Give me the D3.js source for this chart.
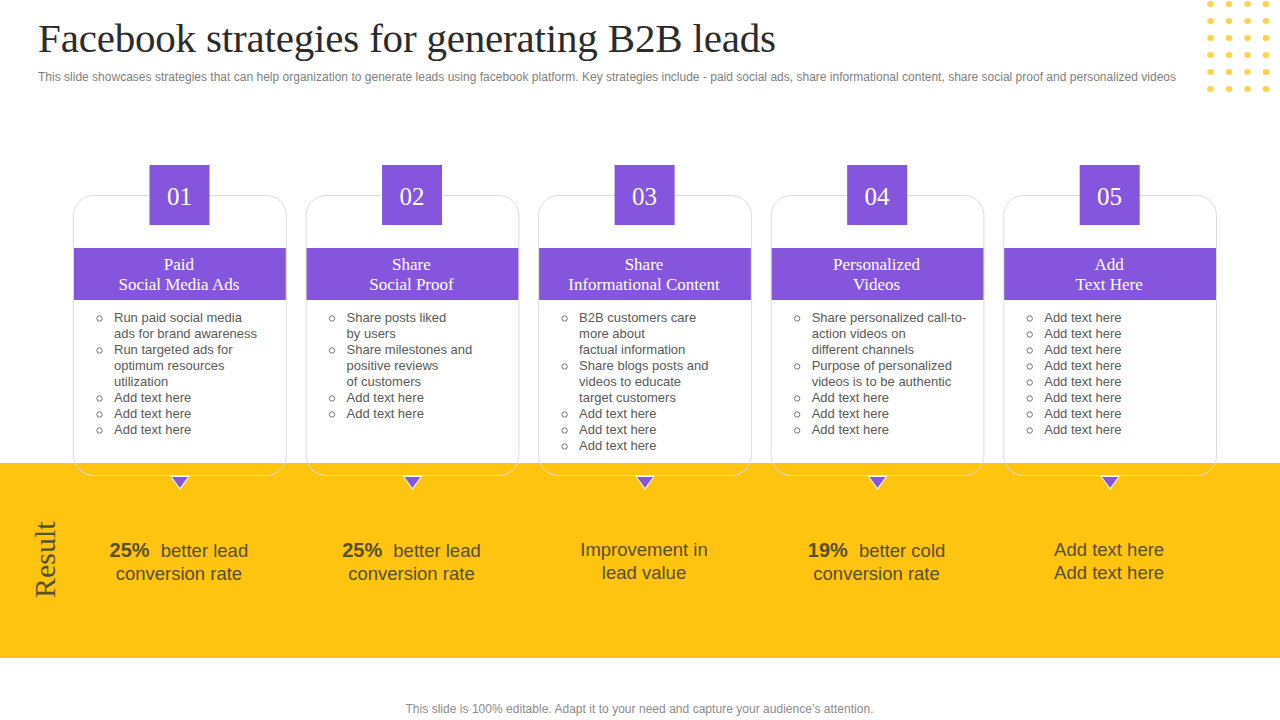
<!DOCTYPE html>
<html>
<head>
<meta charset="utf-8">
<script src="https://cdn.jsdelivr.net/npm/d3@7"></script>
<style>
  html, body { margin: 0; padding: 0; background: #fff; }
  svg { display: block; }
  .serif { font-family: "Liberation Serif", serif; }
  .sans { font-family: "Liberation Sans", sans-serif; }
</style>
</head>
<body>
<svg id="chart" width="1280" height="720"></svg>
<script>
const titleText = "Facebook strategies for generating B2B leads";
const subtitleText = "This slide showcases strategies that can help organization to generate leads using facebook platform. Key strategies include - paid social ads, share informational content, share social proof and personalized videos";
const footerText = "This slide is 100% editable. Adapt it to your need and capture your audience\u2019s attention.";
const numbers = ["01", "02", "03", "04", "05"];
const headings = [
  ["Paid", "Social Media Ads"],
  ["Share", "Social Proof"],
  ["Share", "Informational Content"],
  ["Personalized", "Videos"],
  ["Add", "Text Here"]
];
const bullets = [
  [["Run paid social media", "ads for brand awareness"], ["Run targeted ads for", "optimum resources", "utilization"], ["Add text here"], ["Add text here"], ["Add text here"]],
  [["Share posts liked", "by users"], ["Share milestones and", "positive reviews", "of customers"], ["Add text here"], ["Add text here"]],
  [["B2B customers care", "more about", "factual information"], ["Share blogs posts and", "videos to educate", "target customers"], ["Add text here"], ["Add text here"], ["Add text here"]],
  [["Share personalized call-to-", "action videos on", "different channels"], ["Purpose of personalized", "videos is to be authentic"], ["Add text here"], ["Add text here"], ["Add text here"]],
  [["Add text here"], ["Add text here"], ["Add text here"], ["Add text here"], ["Add text here"], ["Add text here"], ["Add text here"], ["Add text here"]]
];
const resultBold = ["25%", "25%", "", "19%", ""];
const resultFirst = ["better lead", "better lead", "Improvement in", "better cold", "Add text here"];
const resultSecond = ["conversion rate", "conversion rate", "lead value", "conversion rate", "Add text here"];
const dotCols = [0, 1, 2, 3];
const dotRows = [0, 1, 2, 3, 4, 5];

const purple = "#8655de";
const yellow = "#fec410";

const svg = d3.select("#chart");

const x = d3.scaleBand().domain(numbers).range([73.5, 1216.5]).paddingInner(0.085);
const dotX = d3.scalePoint().domain(dotCols).range([1210.5, 1266]);
const dotY = d3.scalePoint().domain(dotRows).range([4, 89]);

svg.append("text").attr("class", "serif").attr("x", 38).attr("y", 52)
  .attr("font-size", 41).attr("fill", "#2b2b2b")
  .attr("textLength", 738).attr("lengthAdjust", "spacing").text(titleText);

svg.append("text").attr("class", "sans").attr("x", 38).attr("y", 80.5)
  .attr("font-size", 12).attr("fill", "#7f7f7f")
  .attr("textLength", 1138).attr("lengthAdjust", "spacing").text(subtitleText);

svg.append("g").selectAll("ellipse")
  .data(d3.cross(dotCols, dotRows))
  .join("ellipse")
  .attr("cx", d => dotX(d[0]))
  .attr("cy", d => dotY(d[1]))
  .attr("rx", 3.3)
  .attr("ry", 2.9)
  .attr("fill", "#fbd44f");

// yellow result band sits under the cards
svg.append("rect").attr("x", 0).attr("y", 463).attr("width", 1280).attr("height", 195).attr("fill", yellow);

svg.append("text").attr("class", "serif")
  .attr("transform", "translate(55,598) rotate(-90)")
  .attr("font-size", 30).attr("fill", "#58502a")
  .text("Result");

const cards = svg.append("g").selectAll("g")
  .data(numbers)
  .join("g")
  .attr("transform", d => `translate(${x(d)},0)`);

// white part of the card above the band
cards.append("path")
  .attr("d", () => {
    const w = x.bandwidth();
    return `M0.5,463V215.5a20,20 0 0 1 20,-20H${w - 20.5}a20,20 0 0 1 20,20V463Z`;
  })
  .attr("fill", "#fff");

cards.append("rect")
  .attr("y", 195.5).attr("width", x.bandwidth()).attr("height", 280)
  .attr("rx", 20).attr("fill", "none").attr("stroke", "#dcdcdc").attr("stroke-width", 1);

cards.append("rect")
  .attr("x", x.bandwidth() / 2 - 30.4).attr("y", 165).attr("width", 60).attr("height", 60)
  .attr("fill", purple);

cards.append("text").attr("class", "serif")
  .attr("x", x.bandwidth() / 2 - 0.5).attr("y", 205)
  .attr("text-anchor", "middle").attr("font-size", 25).attr("fill", "#fff")
  .text(d => d);

cards.append("rect")
  .attr("x", 0.5).attr("y", 248).attr("width", x.bandwidth() - 1).attr("height", 52)
  .attr("fill", purple);

cards.each(function (d, i) {
  const card = d3.select(this);
  const w = x.bandwidth();

  headings[i].forEach((line, k) => {
    card.append("text").attr("class", "serif")
      .attr("x", w / 2 - 1).attr("y", 270 + k * 20)
      .attr("text-anchor", "middle").attr("font-size", 17).attr("fill", "#fff")
      .text(line);
  });

  let row = 0;
  bullets[i].forEach(item => {
    card.append("circle")
      .attr("cx", 26).attr("cy", 318.5 + row * 16).attr("r", 2.7)
      .attr("fill", "none").attr("stroke", "#666").attr("stroke-width", 0.9);
    item.forEach(line => {
      card.append("text").attr("class", "sans")
        .attr("x", 40.5).attr("y", 322 + row * 16)
        .attr("font-size", 13).attr("fill", "#595959")
        .text(line);
      row += 1;
    });
  });

  card.append("path")
    .attr("d", `M${w / 2 - 10},475.5H${w / 2 + 10}L${w / 2},490Z`)
    .attr("fill", "#fff");
  card.append("path")
    .attr("d", `M${w / 2 - 8},477H${w / 2 + 8}L${w / 2},488Z`)
    .attr("fill", purple);

  const first = card.append("text").attr("class", "sans")
    .attr("x", w / 2 - 1).attr("y", resultBold[i] ? 557 : 556)
    .attr("text-anchor", "middle").attr("font-size", 18.5).attr("fill", "#58502a");
  if (resultBold[i]) {
    first.append("tspan").attr("font-weight", "bold").attr("font-size", 20).text(resultBold[i] + "\u00a0\u00a0");
  }
  first.append("tspan").text(resultFirst[i]);

  card.append("text").attr("class", "sans")
    .attr("x", w / 2 - 1).attr("y", resultBold[i] ? 580 : 579)
    .attr("text-anchor", "middle").attr("font-size", 18.5).attr("fill", "#58502a")
    .text(resultSecond[i]);
});

svg.append("text").attr("class", "sans").attr("x", 639.5).attr("y", 713)
  .attr("text-anchor", "middle").attr("font-size", 12).attr("fill", "#8c8c8c")
  .attr("textLength", 468).attr("lengthAdjust", "spacing")
  .text(footerText);
</script>
</body>
</html>
